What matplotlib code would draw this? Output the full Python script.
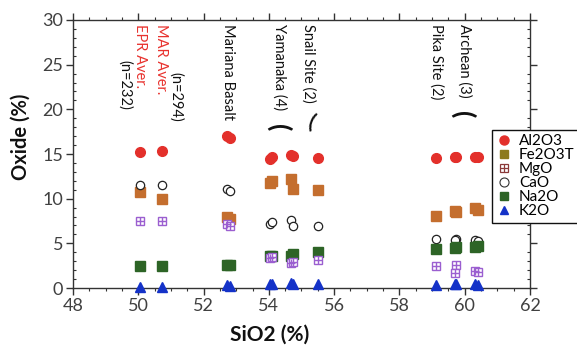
import matplotlib
matplotlib.use("Agg")
import matplotlib.pyplot as plt
from matplotlib.lines import Line2D
from matplotlib.legend_handler import HandlerTuple
from matplotlib.ticker import MultipleLocator

plt.rcParams['font.family'] = ['Lato', 'DejaVu Sans']

# ---- data (one entry per sample) ----
sio2  = [50.05, 50.72, 52.72, 52.80, 54.03, 54.10, 54.68, 54.75, 55.52, 59.11, 59.72, 59.70, 60.33, 60.40]
al2o3 = [15.2, 15.3, 17.0, 16.8, 14.4, 14.7, 14.9, 14.8, 14.6, 14.6, 14.7, 14.7, 14.7, 14.7]
fe2o3 = [10.7, 10.0, 7.9, 7.7, 11.8, 12.0, 12.2, 11.1, 11.0, 8.1, 8.5, 8.6, 8.9, 8.7]
mgo   = [7.5, 7.5, 7.2, 6.9, 3.4, 3.5, 2.8, 2.9, 3.1, 2.5, 2.6, 1.7, 1.9, 1.8]
cao   = [11.5, 11.5, 11.1, 10.9, 7.2, 7.4, 7.6, 6.9, 6.9, 5.5, 5.5, 5.4, 5.4, 5.3]
na2o  = [2.5, 2.5, 2.6, 2.6, 3.6, 3.6, 3.6, 3.8, 4.0, 4.4, 4.6, 4.5, 4.6, 4.7]
k2o   = [0.1, 0.1, 0.3, 0.2, 0.4, 0.5, 0.6, 0.5, 0.4, 0.3, 0.5, 0.4, 0.4, 0.3]

legend_labels = ["Al2O3", "Fe2O3T", "MgO", "CaO", "Na2O", "K2O"]

# group labels: (text, x, y_top, color)
group_labels = [
    ("EPR Aver.", 50.04, 29.6, "#e8322e"),
    ("(n=232)", 49.60, 25.5, "#111111"),
    ("MAR Aver.", 50.70, 29.6, "#e8322e"),
    ("(n=294)", 51.14, 24.2, "#111111"),
    ("Mariana Basalt", 52.75, 29.6, "#111111"),
    ("Yamanaka (4)", 54.34, 29.6, "#111111"),
    ("Snail Site (2)", 55.20, 29.6, "#111111"),
    ("Pika Site (2)", 59.12, 29.6, "#111111"),
    ("Archean (3)", 60.00, 29.6, "#111111"),
]

fig = plt.figure(figsize=(5.77, 3.52), dpi=100)
ax = fig.add_axes([0.1265, 0.1818, 0.792, 0.7614])

c_al = "#e3302b"
c_fe = "#c46e2e"
c_mg = "#9b5fd0"
c_na = "#2d6426"
c_k = "#1432c8"

kw = dict(linestyle="none", clip_on=False, zorder=3)
ax.plot(sio2, al2o3, marker="o", ms=7, mfc=c_al, mec=c_al, **kw)
ax.plot(sio2, fe2o3, marker="s", ms=6.5, mfc=c_fe, mec=c_fe, **kw)
ax.plot(sio2, cao, marker="o", ms=6, mfc="white", mec="#222222", mew=0.9, **kw)
ax.plot(sio2, na2o, marker="s", ms=6.5, mfc=c_na, mec=c_na, **kw)
ax.plot(sio2, mgo, marker="s", ms=5.5, mfc="white", mec=c_mg, mew=1.0, **kw)
ax.plot(sio2, mgo, marker="+", ms=5.5, mec=c_mg, mew=1.0, **kw)
ax.plot(sio2, k2o, marker="^", ms=6.5, mfc=c_k, mec=c_k, **kw)

ax.set_xlim(48, 62)
ax.set_ylim(0, 30)
ax.xaxis.set_major_locator(MultipleLocator(2))
ax.xaxis.set_minor_locator(MultipleLocator(0.5))
ax.yaxis.set_major_locator(MultipleLocator(5))
ax.yaxis.set_minor_locator(MultipleLocator(1))
ax.tick_params(which="major", direction="out", length=5, width=1.0, color="#333333",
               labelsize=13, labelcolor="#404040", top=True, right=True,
               labeltop=False, labelright=False, pad=2)
ax.tick_params(axis="x", which="minor", direction="out", length=2.5, width=0.8,
               color="#333333", top=True, bottom=True)
ax.tick_params(axis="y", which="minor", direction="in", length=2.5, width=0.8,
               color="#333333", left=True, right=True)
for s in ax.spines.values():
    s.set_color("#333333")
    s.set_linewidth(1.0)

ax.set_ylabel("Oxide (%)", fontsize=14.5, fontweight="bold", color="#111111")
ax.yaxis.set_label_coords(-0.115, 0.563)
ax.set_xlabel("SiO2 (%)", fontsize=15, fontweight="bold", color="#111111")
ax.xaxis.set_label_coords(0.431, -0.175)
ax.xaxis.label.set_va("center")
ax.yaxis.label.set_va("center")

for txt, x, y, col in group_labels:
    ax.text(x, y, txt, rotation=-90, ha="center", va="top", fontsize=10.5, color=col)

# grouping brackets
for x, y, rot, fs in [(54.31, 17.9, -90, 19), (55.29, 18.6, -20, 15), (59.95, 19.4, -90, 19)]:
    ax.text(x, y, "(", rotation=rot, ha="center", va="center", fontsize=fs,
            fontweight="bold", color="#111111")

handles = [
    Line2D([], [], linestyle="none", marker="o", ms=6.5, mfc="#e3302b", mec="#e3302b"),
    Line2D([], [], linestyle="none", marker="s", ms=6, mfc="#8c7a1e", mec="#8c7a1e"),
    (Line2D([], [], linestyle="none", marker="s", ms=6, mfc="white", mec="#8b3a3a", mew=0.9),
     Line2D([], [], linestyle="none", marker="+", ms=6, mec="#8b3a3a", mew=0.9)),
    Line2D([], [], linestyle="none", marker="o", ms=6.5, mfc="white", mec="#333333", mew=0.8),
    Line2D([], [], linestyle="none", marker="s", ms=6, mfc="#2d6426", mec="#2d6426"),
    Line2D([], [], linestyle="none", marker="^", ms=6, mfc="#1432c8", mec="#1432c8"),
]
leg = fig.legend(handles, legend_labels, loc="upper left", bbox_to_anchor=(0.853, 0.632),
                 fontsize=11, frameon=True, fancybox=False, framealpha=1,
                 edgecolor="#111111", handlelength=1.0, handletextpad=0.45,
                 labelspacing=0.0, borderpad=0.3, borderaxespad=0,
                 handler_map={tuple: HandlerTuple(ndivide=1, pad=0)})
leg.get_frame().set_linewidth(1.0)
leg.set_zorder(10)

fig.savefig("out.png", dpi=100)
